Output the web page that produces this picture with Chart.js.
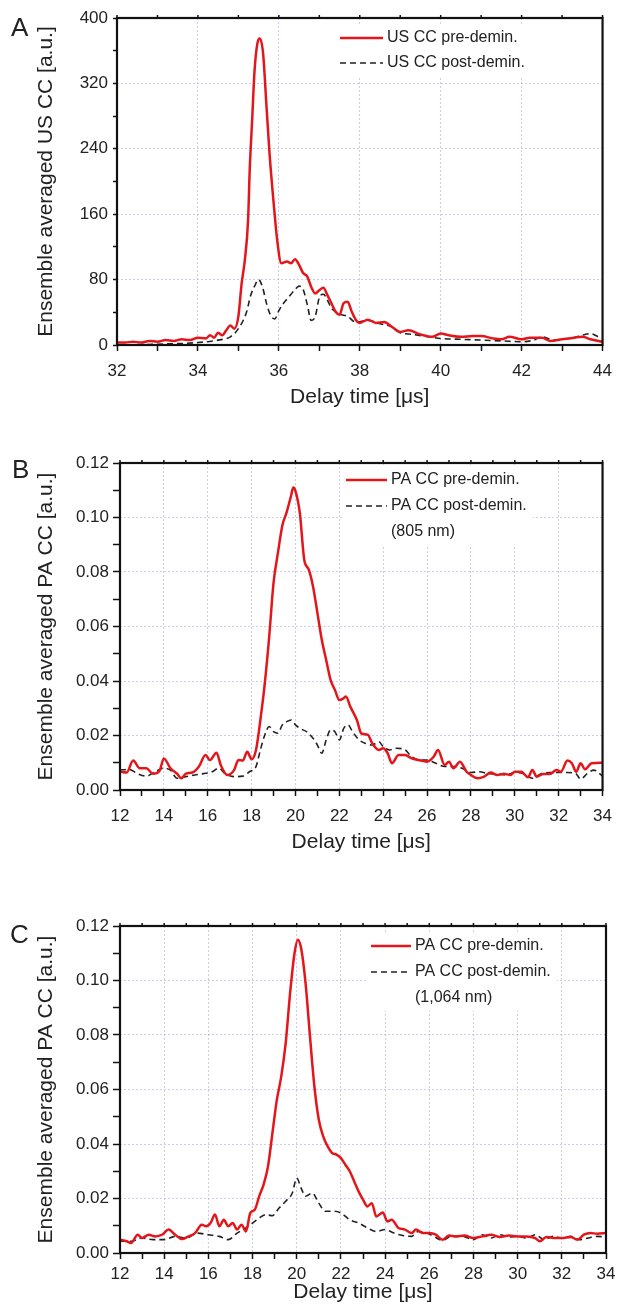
<!DOCTYPE html>
<html>
<head>
<meta charset="utf-8">
<script src="https://cdn.jsdelivr.net/npm/chart.js@4.4.1/dist/chart.umd.min.js"></script>
<style>
  html, body { margin: 0; padding: 0; background: #fff; }
  body { width: 622px; height: 1311px; position: relative; overflow: hidden; font-family: "Liberation Sans", Arial, sans-serif; }
  .panel { position: absolute; left: 0; width: 622px; }
  .letter { position: absolute; font-size: 26px; line-height: 1; color: #222; }
</style>
</head>
<body>
<div class="panel" style="top:0;height:420px"><canvas id="chartA" width="622" height="420"></canvas></div>
<div class="panel" style="top:420px;height:440px"><canvas id="chartB" width="622" height="440"></canvas></div>
<div class="panel" style="top:860px;height:451px"><canvas id="chartC" width="622" height="451"></canvas></div>
<div class="letter" style="left:11px;top:14px">A</div>
<div class="letter" style="left:12px;top:456px">B</div>
<div class="letter" style="left:10px;top:921px">C</div>
<script>
// ---- panel A : ultrasound cross-correlation ----
const aLegend = ['US CC pre-demin.', 'US CC post-demin.'];
const aTimeRed = [32.0,32.2,32.4,32.6,32.8,33.0,33.2,33.4,33.6,33.8,34.0,34.2,34.3,34.4,34.5,34.6,34.7,34.8,34.9,35.0,35.08,35.16,35.24,35.28,35.34,35.4,35.47,35.53,35.61,35.69,35.77,35.88,35.96,36.06,36.2,36.3,36.4,36.5,36.6,36.7,36.8,36.9,37.0,37.1,37.2,37.3,37.4,37.5,37.6,37.7,37.8,37.9,38.0,38.2,38.4,38.6,38.8,39.0,39.2,39.5,39.8,40.0,40.2,40.5,40.8,41.0,41.3,41.5,41.7,42.0,42.2,42.5,42.7,43.0,43.3,43.5,43.7,44.0];
const aRed = [3,3,4,3,5,4,6,5,7,6,9,8,12,9,15,12,18,24,20,35,75,104,153,214,275,336,369,375,357,296,234,169,128,100,102,100,105,98,88,84,71,63,67,70,61,51,41,37,51,53,41,31,27,31,27,28,22,16,18,13,10,14,12,10,11,11,8,7,10,7,9,9,5,7,9,10,7,4];
const aTimeDash = [32.0,33.0,34.0,34.5,34.8,35.0,35.2,35.3,35.4,35.5,35.6,35.7,35.8,35.9,36.0,36.1,36.2,36.3,36.4,36.5,36.6,36.7,36.8,36.9,37.0,37.1,37.2,37.3,37.5,37.7,37.9,38.2,38.5,38.8,39.0,39.3,39.7,40.0,40.5,41.0,41.5,42.0,42.3,42.5,42.8,43.0,43.3,43.5,43.7,43.9,44.0];
const aDash = [0,1,3,6,10,20,40,60,72,80,70,50,36,32,42,50,56,62,68,72,68,50,30,35,58,62,55,45,38,35,28,30,26,22,15,13,10,8,7,6,5,4,6,10,6,7,9,12,14,10,9];

// ---- panel B : photoacoustic, 805 nm ----
const bLegend = ['PA CC pre-demin.', 'PA CC post-demin.'];
const bNote = '(805 nm)';
const bTimeRed = [12.0,12.3,12.6,12.9,13.2,13.5,13.8,14.0,14.3,14.6,14.8,15.0,15.3,15.6,15.9,16.1,16.4,16.6,16.9,17.2,17.4,17.6,17.8,18.0,18.2,18.4,18.6,18.8,19.0,19.2,19.4,19.6,19.8,19.9,20.0,20.2,20.4,20.6,20.8,21.0,21.2,21.4,21.6,21.8,22.0,22.2,22.3,22.5,22.8,23.0,23.3,23.5,23.8,24.0,24.2,24.4,24.7,25.0,25.3,25.6,26.0,26.3,26.5,26.8,27.0,27.2,27.5,27.8,28.0,28.3,28.6,28.9,29.2,29.5,29.8,30.0,30.3,30.6,30.8,31.0,31.3,31.6,31.9,32.1,32.4,32.6,32.8,33.0,33.2,33.5,34.0];
const bRed = [0.0067,0.0064,0.0108,0.008,0.008,0.006,0.007,0.0116,0.008,0.006,0.0043,0.006,0.0064,0.0086,0.0128,0.011,0.0137,0.009,0.0055,0.0073,0.011,0.0108,0.014,0.0113,0.0147,0.0257,0.039,0.056,0.076,0.087,0.097,0.102,0.108,0.111,0.1097,0.1016,0.0845,0.081,0.0747,0.065,0.0551,0.0477,0.0404,0.0367,0.033,0.0337,0.0343,0.0306,0.0257,0.0208,0.0202,0.0171,0.0147,0.0153,0.0135,0.0098,0.0128,0.0128,0.0116,0.011,0.0104,0.0122,0.0147,0.0092,0.0104,0.008,0.0104,0.0067,0.0055,0.0043,0.0049,0.0064,0.0055,0.006,0.0055,0.0067,0.0067,0.0047,0.0073,0.0049,0.0059,0.0059,0.0073,0.0067,0.0108,0.0098,0.0067,0.0098,0.0076,0.0098,0.01];
const bTimeDash = [12.0,12.4,12.8,13.2,13.6,14.0,14.3,14.6,15.0,15.4,15.8,16.2,16.5,16.8,17.2,17.6,17.9,18.2,18.4,18.6,18.8,19.0,19.2,19.4,19.6,19.8,20.0,20.2,20.5,20.8,21.0,21.2,21.4,21.6,21.8,22.0,22.2,22.4,22.6,22.9,23.2,23.5,23.8,24.0,24.3,24.6,25.0,25.3,25.7,26.0,26.4,26.8,27.2,27.6,28.0,28.4,28.8,29.2,29.6,30.0,30.4,30.8,31.2,31.6,32.0,32.4,32.8,33.0,33.3,33.6,34.0];
const bDash = [0.0073,0.0076,0.006,0.0051,0.0067,0.008,0.0073,0.0043,0.0049,0.0055,0.006,0.0067,0.008,0.006,0.0049,0.0051,0.0067,0.0086,0.0147,0.0202,0.0233,0.0214,0.0208,0.0239,0.0251,0.0257,0.0239,0.0226,0.0214,0.019,0.0165,0.0135,0.0184,0.022,0.0214,0.0184,0.0226,0.0239,0.0214,0.0184,0.0171,0.0165,0.0177,0.0159,0.0147,0.0153,0.0147,0.0122,0.011,0.011,0.0098,0.0086,0.0086,0.008,0.0064,0.0067,0.006,0.0059,0.0055,0.0064,0.006,0.0043,0.006,0.0064,0.0064,0.0064,0.0059,0.004,0.006,0.0073,0.0051];

// ---- panel C : photoacoustic, 1,064 nm ----
const cLegend = ['PA CC pre-demin.', 'PA CC post-demin.'];
const cNote = '(1,064 nm)';
const cTimeRed = [12.0,12.3,12.5,12.8,13.0,13.3,13.6,13.9,14.2,14.5,14.8,15.1,15.4,15.7,15.9,16.1,16.3,16.5,16.7,16.9,17.1,17.3,17.5,17.7,17.9,18.1,18.3,18.5,18.7,18.9,19.1,19.3,19.5,19.7,19.9,20.05,20.2,20.4,20.6,20.8,21.0,21.2,21.4,21.6,21.8,22.0,22.2,22.4,22.6,22.8,23.0,23.2,23.4,23.6,23.9,24.1,24.3,24.6,24.9,25.2,25.4,25.7,26.0,26.3,26.6,26.9,27.2,27.6,28.0,28.4,28.8,29.2,29.6,30.0,30.4,30.8,31.0,31.3,31.7,32.0,32.4,32.7,33.0,33.3,33.6,34.0];
const cRed = [0.0049,0.0043,0.0037,0.0067,0.0055,0.0067,0.0061,0.0067,0.0086,0.0067,0.0051,0.0061,0.0073,0.0104,0.0098,0.011,0.0141,0.0098,0.0122,0.0098,0.011,0.0086,0.0104,0.0079,0.0147,0.0159,0.0208,0.0251,0.0318,0.044,0.0562,0.0648,0.077,0.0954,0.11,0.115,0.1118,0.099,0.0795,0.0611,0.0489,0.0428,0.0391,0.0367,0.0361,0.0348,0.0324,0.03,0.0263,0.0226,0.0196,0.0171,0.0183,0.0134,0.0149,0.0116,0.0122,0.0092,0.0086,0.0073,0.0086,0.0073,0.0073,0.0067,0.0049,0.0064,0.0061,0.0064,0.0055,0.0061,0.0067,0.0059,0.0064,0.0061,0.0061,0.0055,0.0043,0.0059,0.0055,0.0055,0.0059,0.0049,0.0067,0.0073,0.0071,0.0073];
const cTimeDash = [12.0,12.5,13.0,13.5,14.0,14.5,15.0,15.5,16.0,16.5,16.9,17.3,17.7,18.0,18.3,18.6,18.9,19.2,19.5,19.8,20.0,20.2,20.4,20.7,21.0,21.3,21.7,22.0,22.4,22.8,23.2,23.6,24.0,24.4,24.8,25.2,25.5,25.9,26.2,26.6,27.0,27.5,28.0,28.4,28.8,29.2,29.6,30.0,30.4,30.8,31.2,31.6,32.0,32.4,32.8,33.2,33.6,34.0];
const cDash = [0.0043,0.0043,0.0055,0.0049,0.0049,0.0061,0.0055,0.0073,0.0067,0.0061,0.0049,0.0073,0.0092,0.011,0.0128,0.0141,0.0137,0.0165,0.019,0.022,0.0275,0.0238,0.0208,0.022,0.0183,0.0153,0.0153,0.0147,0.0122,0.011,0.0092,0.0079,0.0086,0.0073,0.0064,0.0061,0.0079,0.0073,0.0061,0.0046,0.0061,0.0061,0.0049,0.0067,0.0055,0.0067,0.0059,0.0061,0.0055,0.0067,0.0049,0.0061,0.0055,0.0061,0.0049,0.0055,0.0061,0.0059];

const RED = '#e3161b';
const INK = '#222';
const GRID = 'rgba(160,165,215,0.55)';
const FONT = '"Liberation Sans", Arial, sans-serif';

const pts = (xs, ys) => xs.map((x, i) => ({ x: x, y: ys[i] }));

// black frame round the plot area plus small ticks on the top edge
const framePlugin = {
  id: 'frame',
  afterDraw(chart) {
    const { ctx, chartArea: a, scales } = chart;
    ctx.save();
    ctx.strokeStyle = '#111';
    ctx.lineWidth = 1.5;
    scales.x.ticks.forEach(t => {
      const px = scales.x.getPixelForValue(t.value);
      ctx.beginPath();
      ctx.moveTo(px, a.top);
      ctx.lineTo(px, a.top - 3);
      ctx.stroke();
    });
    ctx.lineWidth = 2.2;
    ctx.strokeRect(a.left, a.top, a.right - a.left, a.bottom - a.top);
    ctx.restore();
  }
};

// legend drawn at a fixed place inside the plot, white behind it
const boxLegend = {
  id: 'boxLegend',
  afterDatasetsDraw(chart, args, o) {
    const ctx = chart.ctx;
    ctx.save();
    ctx.font = '16px ' + FONT;
    const tx = o.x + o.len + 4;
    const rows = o.labels.length + (o.note ? 1 : 0);
    let w = 0;
    o.labels.forEach(l => { w = Math.max(w, ctx.measureText(l).width); });
    ctx.fillStyle = '#fff';
    ctx.fillRect(o.x - 4, o.y - 13, tx + w + 6 - (o.x - 4), (rows - 1) * o.row + 26);
    o.labels.forEach((l, i) => {
      const y = o.y + i * o.row;
      ctx.beginPath();
      if (i === 0) { ctx.strokeStyle = RED; ctx.lineWidth = 2.6; ctx.setLineDash([]); }
      else { ctx.strokeStyle = INK; ctx.lineWidth = 1.6; ctx.setLineDash([6, 4]); }
      ctx.moveTo(o.x, y);
      ctx.lineTo(o.x + o.len, y);
      ctx.stroke();
      ctx.setLineDash([]);
      ctx.fillStyle = INK;
      ctx.textBaseline = 'middle';
      ctx.fillText(l, tx, y);
    });
    if (o.note) ctx.fillText(o.note, tx, o.y + o.labels.length * o.row);
    ctx.restore();
  }
};

function makePanel(id, p) {
  return new Chart(document.getElementById(id), {
    type: 'line',
    data: {
      datasets: [
        { label: p.legend[0], data: pts(p.tRed, p.red), borderColor: RED, borderWidth: 2.5,
          pointRadius: 0, cubicInterpolationMode: 'monotone', fill: false },
        { label: p.legend[1], data: pts(p.tDash, p.dash), borderColor: INK, borderWidth: 1.6,
          borderDash: [6, 4], pointRadius: 0, cubicInterpolationMode: 'monotone', fill: false }
      ]
    },
    options: {
      responsive: false,
      animation: false,
      layout: { padding: { top: p.padTop, right: p.padRight, left: 0, bottom: 0 } },
      plugins: {
        legend: { display: false },
        tooltip: { enabled: false },
        boxLegend: p.box
      },
      scales: {
        x: {
          type: 'linear', min: p.xMin, max: p.xMax,
          afterFit: s => { s.height = p.xAxisH; },
          ticks: {
            stepSize: 1, autoSkip: false, maxRotation: 0, padding: p.xTickPad, color: INK,
            font: { family: FONT, size: 17 },
            callback: v => (v % 2 === 0 ? v : '')
          },
          grid: {
            color: c => (c.tick && c.tick.value % 2 === 0 ? GRID : 'rgba(0,0,0,0)'),
            lineWidth: 1, tickLength: 6, tickColor: '#111', tickWidth: 1.5, tickBorderDash: []
          },
          border: { display: false, dash: [2, 2] },
          title: { display: true, text: 'Delay time [μs]', color: INK,
                   font: { family: FONT, size: 21 }, padding: { top: 0, bottom: p.xTitlePad } }
        },
        y: {
          type: 'linear', min: 0, max: p.yMax,
          afterFit: s => { s.width = p.yAxisW; },
          ticks: {
            stepSize: p.yStep, autoSkip: false, padding: p.yTickPad, color: INK,
            font: { family: FONT, size: 17 },
            callback: v => p.yLabel(v)
          },
          grid: {
            color: c => (c.tick && p.yLabel(c.tick.value) !== '' ? GRID : 'rgba(0,0,0,0)'),
            lineWidth: 1, tickLength: p.yTickLen, tickColor: '#111', tickWidth: 1.5, tickBorderDash: []
          },
          border: { display: false, dash: [2, 2] },
          title: { display: true, text: p.yTitle, color: INK,
                   font: { family: FONT, size: 21 }, padding: { top: 34, bottom: 0 } }
        }
      }
    },
    plugins: [framePlugin, boxLegend]
  });
}

const paLabel = v => (Math.round(v * 100) % 2 === 0 ? v.toFixed(2) : '');

makePanel('chartA', {
  legend: aLegend, tRed: aTimeRed, red: aRed, tDash: aTimeDash, dash: aDash,
  xMin: 32, xMax: 44, yMax: 400, yStep: 40,
  yLabel: v => (Math.round(v) % 80 === 0 ? String(Math.round(v)) : ''),
  yTitle: 'Ensemble averaged US CC [a.u.]',
  padTop: 18, padRight: 17, xAxisH: 75, yAxisW: 117,
  xTickPad: 10, xTitlePad: 10, yTickPad: 5, yTickLen: 4,
  box: { labels: aLegend, x: 340, y: 38, len: 43, row: 25 }
});

makePanel('chartB', {
  legend: bLegend, tRed: bTimeRed, red: bRed, tDash: bTimeDash, dash: bDash,
  xMin: 12, xMax: 34, yMax: 0.12, yStep: 0.01, yLabel: paLabel,
  yTitle: 'Ensemble averaged PA CC [a.u.]',
  padTop: 43, padRight: 16, xAxisH: 70, yAxisW: 120,
  xTickPad: 10, xTitlePad: 5, yTickPad: 4, yTickLen: 7,
  box: { labels: bLegend, note: bNote, x: 346, y: 60, len: 41, row: 26 }
});

makePanel('chartC', {
  legend: cLegend, tRed: cTimeRed, red: cRed, tDash: cTimeDash, dash: cDash,
  xMin: 12, xMax: 34, yMax: 0.12, yStep: 0.01, yLabel: paLabel,
  yTitle: 'Ensemble averaged PA CC [a.u.]',
  padTop: 66, padRight: 16, xAxisH: 58, yAxisW: 120,
  xTickPad: 5, xTitlePad: 6, yTickPad: 4, yTickLen: 7,
  box: { labels: cLegend, note: cNote, x: 371, y: 86, len: 40, row: 26 }
});
</script>
</body>
</html>
